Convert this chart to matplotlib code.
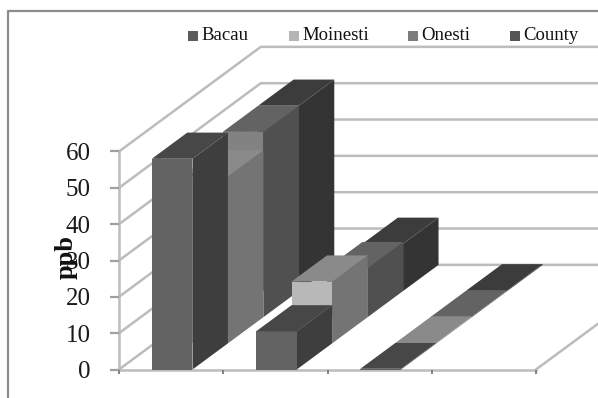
import numpy as np
import matplotlib
matplotlib.use("Agg")
import matplotlib.pyplot as plt
from matplotlib.patches import Polygon, Rectangle

plt.rcParams["font.family"] = "Liberation Serif"

# values, one list per site
sites = ["Bacau", "Moinesti", "Onesti", "County"]
bacau = [58, 10.5, 0.2]
moinesti = [46, 17, 0.2]
onesti = [51, 13.5, 0.2]
county = [51, 13, 0.2]
series = [bacau, moinesti, onesti, county]
y_ticks = [0, 10, 20, 30, 40, 50, 60]

# grey shades for front, side and top faces of each series
front_cols = ["#636363", "#b8b8b8", "#828282", "#5a5a5a"]
side_cols = ["#3e3e3e", "#747474", "#505050", "#343434"]
top_cols = ["#474747", "#8a8a8a", "#636363", "#3c3c3c"]
legend_cols = ["#5c5c5c", "#b4b4b4", "#7c7c7c", "#555555"]
grid_col = "#bcbcbc"

W, H = 598, 398
fig = plt.figure(figsize=(W / 100, H / 100), dpi=100)

# axes sits on the front edge of the chart, depth is faked with an offset
ax = fig.add_axes([119 / W, 1 - 369.5 / H, 417 / W, 218 / H])
ax.set_xlim(0, 4)
ax.set_ylim(0, 60)
ax.patch.set_alpha(0)

dx = 0.34  # one series of depth, in category units
dy = 7.2   # one series of depth, in value units
n_depth = len(series)
bar_l = 0.315
bar_w = 0.39


def proj(x, depth, v):
    return x + depth * dx, v + depth * dy


# walls and gridlines
for v in y_ticks:
    x2, y2 = proj(0, n_depth, v)
    ax.plot([0, x2, 5], [v, y2, y2], color=grid_col, lw=1.8, clip_on=False, zorder=1)
x3, y3 = proj(4, n_depth, 0)
ax.plot([4, x3], [0, y3], color=grid_col, lw=1.8, clip_on=False, zorder=1)

# bars, from the back row to the front row so nearer ones cover the others
z = 2
for d in range(n_depth - 1, -1, -1):
    for c in range(len(series[d])):
        v = series[d][c]
        x0 = c + bar_l
        x1 = x0 + bar_w
        front = [proj(x0, d, 0), proj(x1, d, 0), proj(x1, d, v), proj(x0, d, v)]
        side = [proj(x1, d, 0), proj(x1, d + 1, 0), proj(x1, d + 1, v), proj(x1, d, v)]
        top = [proj(x0, d, v), proj(x1, d, v), proj(x1, d + 1, v), proj(x0, d + 1, v)]
        ax.add_patch(Polygon(side, fc=side_cols[d], ec="none", clip_on=False, zorder=z))
        ax.add_patch(Polygon(front, fc=front_cols[d], ec="none", clip_on=False, zorder=z))
        ax.add_patch(Polygon(top, fc=top_cols[d], ec="none", clip_on=False, zorder=z))
    z += 1

for s in ["top", "right"]:
    ax.spines[s].set_visible(False)
for s in ["left", "bottom"]:
    ax.spines[s].set_color(grid_col)
    ax.spines[s].set_linewidth(1.8)
    ax.spines[s].set_zorder(1)
ax.set_yticks(y_ticks)
ax.set_xticks(range(5))
ax.set_xticklabels([])
ax.tick_params(axis="y", labelsize=18, length=6.5, width=1.6, color="#a0a0a0", pad=14, labelcolor="#1a1a1a")
ax.tick_params(axis="x", length=3, width=1.4, color="#808080")
ax.set_ylabel("ppb", fontsize=19, fontweight="bold", color="#111111")
ax.yaxis.set_label_coords(-0.099, 0.514)

# outer frame of the pasted chart
fig.add_artist(plt.Line2D([7.5 / W, 7.5 / W, 1], [0, 1 - 11 / H, 1 - 11 / H],
                          color="#8c8c8c", lw=1.6))

# legend, keyed by hand to keep the tight spacing
leg_x = [188, 289, 408, 510]
for name, col, px in zip(sites, legend_cols, leg_x):
    fig.patches.append(Rectangle((px / W, 1 - 41 / H), 10 / W, 10 / H, fc=col, ec="none",
                                 transform=fig.transFigure))
    fig.text((px + 13.5) / W, 1 - 36 / H, name, fontsize=13.5, va="center", color="#111111")

fig.savefig("out.png", dpi=100)
